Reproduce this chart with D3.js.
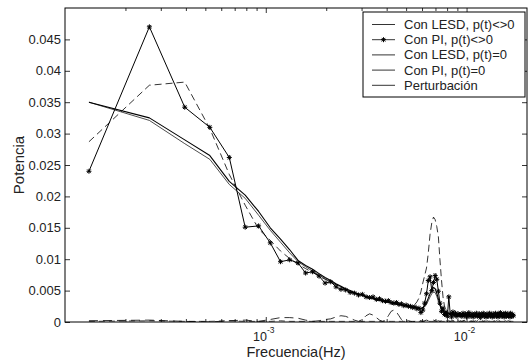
<!DOCTYPE html>
<html>
<head>
<meta charset="utf-8">
<script src="https://cdn.jsdelivr.net/npm/d3@7"></script>
<style>
  html, body { margin: 0; padding: 0; background: #fff; }
  svg { display: block; font-family: "Liberation Sans", Arial, Helvetica, sans-serif; }
</style>
</head>
<body>
<svg id="chart" width="528" height="363"></svg>
<script>
// Frequency grid of the spectrum (Hz): k * df, k = 1..130
const pasoFrecuencia = 1.316e-4;
const frecuencias = d3.range(1, 131).map(k => k * pasoFrecuencia);

// Spectral power of each signal, one value per frequency bin
const lesdConP = [
  0.0350,0.0325,0.0290,0.0265,0.0224,0.0202,0.0176,0.0150,0.0132,0.0115,
  0.0098,0.0090,0.0084,0.0077,0.0071,0.0066,0.0061,0.0057,0.0053,0.0050,
  0.0047,0.0045,0.0043,0.0041,0.0039,0.0038,0.0036,0.0035,0.0034,0.0033,
  0.0032,0.0031,0.0030,0.0029,0.0028,0.0028,0.0027,0.0026,0.0025,0.0025,
  0.0024,0.0023,0.0023,0.0022,0.0022,0.0023,0.0026,0.0031,0.0038,0.0045,
  0.0051,0.0055,0.0053,0.0046,0.0037,0.0029,0.0022,0.0018,0.0016,0.0014,
  0.0014,0.0013,0.0013,0.0013,0.0012,0.0012,0.0012,0.0012,0.0011,0.0011,
  0.0011,0.0011,0.0011,0.0011,0.0011,0.0011,0.0011,0.0010,0.0011,0.0010,
  0.0010,0.0010,0.0010,0.0010,0.0010,0.0010,0.0010,0.0010,0.0010,0.0010,
  0.0010,0.0010,0.0010,0.0010,0.0010,0.0010,0.0010,0.0010,0.0009,0.0010,
  0.0009,0.0009,0.0009,0.0009,0.0009,0.0009,0.0009,0.0009,0.0009,0.0009,
  0.0009,0.0009,0.0009,0.0009,0.0009,0.0009,0.0009,0.0009,0.0009,0.0009,
  0.0009,0.0009,0.0009,0.0009,0.0009,0.0009,0.0009,0.0009,0.0009,0.0009
];

const piConP = [
  0.0240,0.0470,0.0342,0.0310,0.0262,0.0151,0.0153,0.0126,0.0096,0.0099,
  0.0094,0.0078,0.0080,0.0073,0.0062,0.0064,0.0056,0.0052,0.0051,0.0047,
  0.0046,0.0043,0.0044,0.0040,0.0039,0.0040,0.0036,0.0037,0.0034,0.0033,
  0.0034,0.0031,0.0030,0.0031,0.0028,0.0029,0.0026,0.0027,0.0025,0.0025,
  0.0023,0.0024,0.0021,0.0022,0.0015,0.0019,0.0030,0.0045,0.0066,0.0072,
  0.0050,0.0063,0.0074,0.0068,0.0049,0.0030,0.0017,0.0022,0.0012,0.0016,
  0.0009,0.0040,0.0013,0.0008,0.0016,0.0011,0.0014,0.0009,0.0013,0.0011,
  0.0012,0.0009,0.0014,0.0010,0.0013,0.0008,0.0012,0.0015,0.0009,0.0011,
  0.0013,0.0008,0.0012,0.0010,0.0014,0.0009,0.0011,0.0013,0.0007,0.0012,
  0.0010,0.0014,0.0009,0.0012,0.0008,0.0013,0.0011,0.0009,0.0014,0.0010,
  0.0012,0.0008,0.0013,0.0011,0.0009,0.0014,0.0010,0.0012,0.0008,0.0013,
  0.0011,0.0015,0.0009,0.0012,0.0010,0.0013,0.0008,0.0012,0.0014,0.0009,
  0.0011,0.0013,0.0010,0.0012,0.0008,0.0014,0.0011,0.0009,0.0012,0.0010
];

const lesdSinP = [
  0.0002,0.0003,0.0001,0.0000,0.0002,0.0003,0.0001,0.0004,0.0007,0.0007,
  0.0006,0.0003,0.0001,0.0002,0.0004,0.0005,0.0008,0.0010,0.0009,0.0006,
  0.0003,0.0001,0.0004,0.0010,0.0013,0.0011,0.0007,0.0003,0.0001,0.0003,
  0.0010,0.0017,0.0019,0.0016,0.0010,0.0004,0.0000,0.0001,0.0002,0.0001,
  0.0000,0.0001,0.0002,0.0003,0.0002,0.0001,0.0002,0.0003,0.0002,0.0001,
  0.0002,0.0003,0.0002,0.0001,0.0002,0.0001,0.0002,0.0003,0.0001,0.0002,
  0.0001,0.0002,0.0001,0.0002,0.0003,0.0001,0.0002,0.0001,0.0002,0.0001,
  0.0002,0.0001,0.0002,0.0003,0.0001,0.0002,0.0001,0.0002,0.0001,0.0002,
  0.0001,0.0002,0.0001,0.0002,0.0001,0.0002,0.0003,0.0001,0.0002,0.0001,
  0.0002,0.0001,0.0002,0.0001,0.0002,0.0001,0.0002,0.0001,0.0002,0.0001,
  0.0002,0.0001,0.0002,0.0001,0.0002,0.0001,0.0002,0.0001,0.0002,0.0001,
  0.0002,0.0001,0.0002,0.0001,0.0002,0.0001,0.0002,0.0001,0.0002,0.0001,
  0.0002,0.0001,0.0002,0.0001,0.0002,0.0001,0.0002,0.0001,0.0002,0.0001
];

const piSinP = [
  0.0001,0.0002,0.0001,0.0001,0.0002,0.0001,0.0001,0.0001,0.0002,0.0001,
  0.0001,0.0001,0.0001,0.0001,0.0001,0.0001,0.0001,0.0001,0.0001,0.0001,
  0.0001,0.0001,0.0001,0.0001,0.0001,0.0001,0.0001,0.0001,0.0001,0.0001,
  0.0001,0.0001,0.0001,0.0001,0.0001,0.0001,0.0001,0.0001,0.0001,0.0001,
  0.0001,0.0001,0.0001,0.0001,0.0001,0.0001,0.0001,0.0001,0.0001,0.0001,
  0.0001,0.0001,0.0001,0.0001,0.0001,0.0001,0.0001,0.0001,0.0001,0.0001,
  0.0001,0.0001,0.0001,0.0001,0.0001,0.0001,0.0001,0.0001,0.0001,0.0001,
  0.0001,0.0001,0.0001,0.0001,0.0001,0.0001,0.0001,0.0001,0.0001,0.0001,
  0.0001,0.0001,0.0001,0.0001,0.0001,0.0001,0.0001,0.0001,0.0001,0.0001,
  0.0001,0.0001,0.0001,0.0001,0.0001,0.0001,0.0001,0.0001,0.0001,0.0001,
  0.0001,0.0001,0.0001,0.0001,0.0001,0.0001,0.0001,0.0001,0.0001,0.0001,
  0.0001,0.0001,0.0001,0.0001,0.0001,0.0001,0.0001,0.0001,0.0001,0.0001,
  0.0001,0.0001,0.0001,0.0001,0.0001,0.0001,0.0001,0.0001,0.0001,0.0001
];

const perturbacion = [
  0.0287,0.0377,0.0382,0.0308,0.0235,0.0186,0.0148,0.0130,0.0113,0.0101,
  0.0092,0.0085,0.0079,0.0073,0.0068,0.0063,0.0059,0.0055,0.0052,0.0049,
  0.0046,0.0044,0.0042,0.0040,0.0038,0.0037,0.0035,0.0034,0.0033,0.0032,
  0.0031,0.0030,0.0029,0.0028,0.0028,0.0027,0.0026,0.0026,0.0025,0.0025,
  0.0026,0.0028,0.0032,0.0038,0.0048,0.0062,0.0074,0.0086,0.0110,0.0140,
  0.0158,0.0167,0.0163,0.0152,0.0136,0.0099,0.0067,0.0040,0.0025,0.0018,
  0.0015,0.0014,0.0013,0.0013,0.0012,0.0012,0.0012,0.0011,0.0011,0.0011,
  0.0011,0.0011,0.0010,0.0011,0.0010,0.0010,0.0011,0.0010,0.0010,0.0010,
  0.0010,0.0010,0.0010,0.0010,0.0010,0.0010,0.0010,0.0010,0.0010,0.0010,
  0.0010,0.0010,0.0010,0.0010,0.0010,0.0010,0.0010,0.0010,0.0010,0.0010,
  0.0010,0.0010,0.0010,0.0010,0.0010,0.0010,0.0010,0.0010,0.0010,0.0010,
  0.0010,0.0010,0.0010,0.0010,0.0010,0.0010,0.0010,0.0010,0.0010,0.0010,
  0.0010,0.0010,0.0010,0.0010,0.0010,0.0010,0.0010,0.0010,0.0010,0.0010
];

// Second run of the LESD loop, plotted but not named in the legend
const lesdConP2 = [
  0.0350,0.0321,0.0284,0.0259,0.0219,0.0197,0.0170,0.0146,0.0127,0.0110,
  0.0096,0.0088,0.0081,0.0075,0.0069,0.0064,0.0060,0.0056,0.0052,0.0049,
  0.0046,0.0044,0.0042,0.0040,0.0038,0.0037,0.0035,0.0034,0.0033,0.0032,
  0.0031,0.0030,0.0029,0.0028,0.0027,0.0027,0.0026,0.0025,0.0024,0.0024,
  0.0023,0.0022,0.0022,0.0021,0.0021,0.0022,0.0024,0.0028,0.0034,0.0040,
  0.0045,0.0048,0.0047,0.0041,0.0033,0.0026,0.0020,0.0016,0.0014,0.0013,
  0.0013,0.0012,0.0012,0.0012,0.0011,0.0011,0.0011,0.0011,0.0010,0.0010,
  0.0010,0.0010,0.0010,0.0010,0.0010,0.0010,0.0010,0.0010,0.0010,0.0010,
  0.0010,0.0009,0.0010,0.0009,0.0009,0.0009,0.0009,0.0009,0.0009,0.0009,
  0.0009,0.0009,0.0009,0.0009,0.0009,0.0009,0.0009,0.0009,0.0009,0.0009,
  0.0009,0.0009,0.0009,0.0009,0.0009,0.0009,0.0009,0.0009,0.0009,0.0009,
  0.0008,0.0009,0.0008,0.0009,0.0008,0.0008,0.0008,0.0008,0.0008,0.0008,
  0.0008,0.0008,0.0008,0.0008,0.0008,0.0008,0.0008,0.0008,0.0008,0.0008
];

const nombresLeyenda = [
  "Con LESD, p(t)<>0",
  "Con PI, p(t)<>0",
  "Con LESD, p(t)=0",
  "Con PI, p(t)=0",
  "Perturbación"
];

const ticksY = [0, 0.005, 0.01, 0.015, 0.02, 0.025, 0.03, 0.035, 0.04, 0.045];
const etiquetasY = ["0", "0.005", "0.01", "0.015", "0.02", "0.025", "0.03", "0.035", "0.04", "0.045"];
const ticksXMayores = [1e-3, 1e-2];
const exponentesX = ["-3", "-2"];
const ticksXMenores = [2e-4,3e-4,4e-4,5e-4,6e-4,7e-4,8e-4,9e-4,
                       2e-3,3e-3,4e-3,5e-3,6e-3,7e-3,8e-3,9e-3];

const svg = d3.select("#chart");
const m = { left: 65, right: 527, top: 8, bottom: 322 };

const x = d3.scaleLog().domain([1e-4, 0.02]).range([m.left, m.right]);
const y = d3.scaleLinear().domain([0, 0.05]).range([m.bottom, m.top]);

const linea = d3.line().x(d => x(d[0])).y(d => y(d[1]));

const series = [
  { valores: perturbacion, ancho: 0.8, trazo: "7,4" },
  { valores: lesdConP2,    ancho: 0.7, trazo: null },
  { valores: lesdConP,     ancho: 1.1, trazo: null },
  { valores: lesdSinP,     ancho: 0.8, trazo: "9,5" },
  { valores: piSinP,       ancho: 0.7, trazo: "6,4" },
  { valores: piConP,       ancho: 1.0, trazo: null, marcador: true }
];

svg.append("defs").append("clipPath").attr("id", "area")
  .append("rect").attr("x", m.left).attr("y", m.top)
  .attr("width", m.right - m.left).attr("height", m.bottom - m.top);

const gDatos = svg.append("g").attr("clip-path", "url(#area)");

// Asterisk marker
const estrella = "M-2.5,0H2.5M0,-2.5V2.5M-1.8,-1.8L1.8,1.8M-1.8,1.8L1.8,-1.8";

series.forEach(s => {
  const pts = frecuencias.map((f, i) => [f, s.valores[i]]);
  gDatos.append("path")
    .attr("d", linea(pts))
    .attr("fill", "none")
    .attr("stroke", "#000")
    .attr("stroke-width", s.ancho)
    .attr("stroke-dasharray", s.trazo)
    .attr("stroke-linejoin", "round");
  if (s.marcador) {
    gDatos.selectAll(null).data(pts).enter().append("path")
      .attr("transform", d => `translate(${x(d[0])},${y(d[1])})`)
      .attr("d", estrella)
      .attr("stroke", "#000")
      .attr("stroke-width", 1)
      .attr("fill", "none");
  }
});

// Axes: ticks pointing inward on all four sides
function dibujarEje(eje, transform) {
  const g = svg.append("g").attr("transform", transform).call(eje);
  g.select(".domain").remove();
  g.selectAll(".tick line").attr("stroke", "#000").attr("stroke-width", 0.8);
  g.selectAll(".tick text").remove();
  return g;
}

dibujarEje(d3.axisLeft(y).tickValues(ticksY).tickSize(-5), `translate(${m.left},0)`);
dibujarEje(d3.axisRight(y).tickValues(ticksY).tickSize(-5), `translate(${m.right},0)`);
dibujarEje(d3.axisBottom(x).tickValues(ticksXMayores).tickSize(-5), `translate(0,${m.bottom})`);
dibujarEje(d3.axisTop(x).tickValues(ticksXMayores).tickSize(-5), `translate(0,${m.top})`);
dibujarEje(d3.axisBottom(x).tickValues(ticksXMenores).tickSize(-3), `translate(0,${m.bottom})`);
dibujarEje(d3.axisTop(x).tickValues(ticksXMenores).tickSize(-3), `translate(0,${m.top})`);

// Plot box
svg.append("rect")
  .attr("x", m.left).attr("y", m.top)
  .attr("width", m.right - m.left).attr("height", m.bottom - m.top)
  .attr("fill", "none").attr("stroke", "#000").attr("stroke-width", 1);

// Y tick labels
svg.append("g").selectAll("text").data(ticksY).enter().append("text")
  .attr("x", m.left - 4)
  .attr("y", d => y(d))
  .attr("dy", "0.35em")
  .attr("text-anchor", "end")
  .attr("font-size", 13)
  .attr("fill", "#222")
  .text((d, i) => etiquetasY[i]);

// X tick labels as powers of ten
const gx = svg.append("g").selectAll("text").data(ticksXMayores).enter().append("text")
  .attr("x", d => x(d) - 2)
  .attr("y", 341)
  .attr("text-anchor", "middle")
  .attr("font-size", 12.5)
  .attr("fill", "#222");
gx.append("tspan").text("10");
gx.append("tspan").attr("dy", -8).attr("font-size", 8.5).text((d, i) => exponentesX[i]);

// Axis titles
svg.append("text")
  .attr("x", (m.left + m.right) / 2)
  .attr("y", 357)
  .attr("text-anchor", "middle")
  .attr("font-size", 14.5)
  .attr("fill", "#222")
  .text("Frecuencia(Hz)");

svg.append("text")
  .attr("transform", `translate(24,${(m.top + m.bottom) / 2}) rotate(-90)`)
  .attr("text-anchor", "middle")
  .attr("font-size", 15)
  .attr("fill", "#222")
  .text("Potencia");

// Legend
const leg = { x: 363, y: 12, w: 162, h: 85, paso: 15.2 };
const gLeg = svg.append("g");
gLeg.append("rect")
  .attr("x", leg.x).attr("y", leg.y).attr("width", leg.w).attr("height", leg.h)
  .attr("fill", "#fff").attr("stroke", "#000").attr("stroke-width", 1);

const filas = gLeg.selectAll("g.fila").data(nombresLeyenda).enter().append("g")
  .attr("transform", (d, i) => `translate(${leg.x},${leg.y + 12.5 + i * leg.paso})`);
filas.append("line")
  .attr("x1", 9).attr("x2", 32).attr("y1", 0).attr("y2", 0)
  .attr("stroke", "#000").attr("stroke-width", 0.8);
filas.filter((d, i) => i === 1).append("path")
  .attr("transform", "translate(20.5,0)")
  .attr("d", estrella).attr("stroke", "#000").attr("stroke-width", 1).attr("fill", "none");
filas.append("text")
  .attr("x", 41).attr("y", 0).attr("dy", "0.35em")
  .attr("font-size", 13)
  .attr("fill", "#222")
  .text(d => d);
</script>
</body>
</html>
